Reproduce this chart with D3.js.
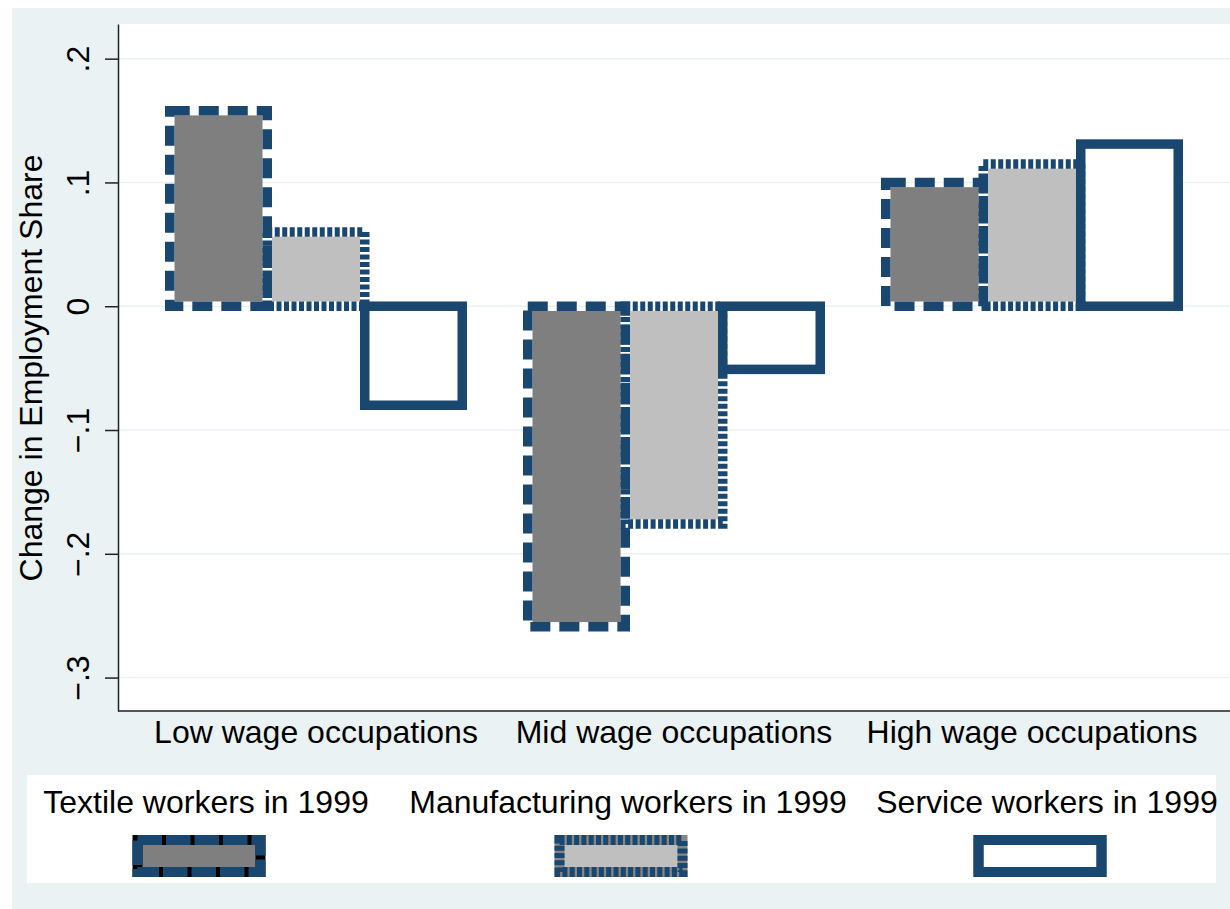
<!DOCTYPE html>
<html lang="en">
<head>
    <meta charset="utf-8">
    <title>Change in Employment Share by Occupation Wage Level</title>
    <script src="https://cdnjs.cloudflare.com/ajax/libs/d3/7.8.5/d3.min.js"></script>
    <style>
        body { margin: 0; background: #fff; }
        svg text { font-family: "Liberation Sans", Arial, Helvetica, sans-serif; fill: #000; }
    </style>
</head>
<body>
<div id="graphContent"></div>

<script>
    // data
    var groups = ["Low wage occupations", "Mid wage occupations", "High wage occupations"];
    var seriesNames = ["Textile workers in 1999", "Manufacturing workers in 1999", "Service workers in 1999"];
    var textileValues = [0.158, -0.259, 0.100];
    var manufacturingValues = [0.060, -0.176, 0.115];
    var serviceValues = [-0.080, -0.051, 0.131];
    var yTicks = [-0.3, -0.2, -0.1, 0, 0.1, 0.2];

    var navy = "#1a476f";
    var bgColor = "#eaf2f3";

    var seriesStyle = [
        {fill: "#7f7f7f", dash: "20,9", keyGap: "#000", keyDash: "24.5,4"},
        {fill: "#bfbfbf", dash: "5,2.5", keyGap: "#868686", keyDash: "5,2.3"},
        {fill: "#ffffff", dash: null, keyGap: navy, keyDash: null}
    ];

    var seriesValues = [textileValues, manufacturingValues, serviceValues];

    var rows = [];
    groups.forEach(function (g, gi) {
        seriesNames.forEach(function (s, si) {
            rows.push({group: g, series: s, si: si, value: seriesValues[si][gi]});
        });
    });

    var width = 1230, height = 909;
    var plot = {left: 118, top: 24, right: 1230, bottom: 711};
    var strokeW = 9.5;

    var svg = d3.select("#graphContent").append("svg")
        .attr("width", width)
        .attr("height", height);

    // outer graph region + plot region
    svg.append("rect").attr("x", 12).attr("y", 8).attr("width", width - 12).attr("height", height - 8)
        .attr("fill", bgColor);
    svg.append("rect").attr("x", plot.left).attr("y", plot.top)
        .attr("width", plot.right - plot.left).attr("height", plot.bottom - plot.top)
        .attr("fill", "#fff");

    var yScale = d3.scaleLinear().domain([-0.327, 0.228]).range([plot.bottom, plot.top]);

    var x0 = d3.scaleBand().domain(groups).range([137, 1211]);
    var x1 = d3.scaleBand().domain(seriesNames).range([0, x0.bandwidth()]).paddingOuter(0.336);

    // grid
    svg.append("g").selectAll("line").data(yTicks).join("line")
        .attr("x1", plot.left).attr("x2", plot.right)
        .attr("y1", d => yScale(d)).attr("y2", d => yScale(d))
        .attr("stroke", bgColor).attr("stroke-width", 1.5);

    // bars: fill inset, outline on top
    var bars = svg.append("g").selectAll("g").data(rows).join("g");

    function barBox(d) {
        var x = x0(d.group) + x1(d.series);
        var y = Math.min(yScale(d.value), yScale(0));
        var h = Math.abs(yScale(d.value) - yScale(0));
        return {x: x, y: y, w: x1.bandwidth(), h: h};
    }

    bars.append("rect")
        .attr("x", d => barBox(d).x + strokeW / 2)
        .attr("y", d => barBox(d).y + strokeW / 2)
        .attr("width", d => barBox(d).w - strokeW)
        .attr("height", d => Math.max(0, barBox(d).h - strokeW))
        .attr("fill", d => seriesStyle[d.si].fill);

    bars.append("rect")
        .attr("x", d => barBox(d).x)
        .attr("y", d => barBox(d).y)
        .attr("width", d => barBox(d).w)
        .attr("height", d => barBox(d).h)
        .attr("fill", "none")
        .attr("stroke", navy)
        .attr("stroke-width", strokeW)
        .attr("stroke-dasharray", d => seriesStyle[d.si].dash);

    // y axis
    var yAxis = d3.axisLeft(yScale).tickValues(yTicks).tickSize(13).tickSizeOuter(0)
        .tickFormat(function (d) {
            if (d === 0) return "0";
            return d3.format(".1f")(d).replace("0.", ".");
        });

    var yG = svg.append("g")
        .attr("transform", "translate(" + plot.left + ",0)")
        .call(yAxis);
    yG.select(".domain").attr("stroke", "#222").attr("stroke-width", 1.5);
    yG.selectAll(".tick line").attr("stroke", "#222").attr("stroke-width", 1.5);
    yG.selectAll(".tick text")
        .attr("x", 0).attr("dy", null)
        .attr("transform", "translate(-29,0) rotate(-90)")
        .attr("text-anchor", "middle")
        .attr("font-size", 32)
        .attr("fill", "#000");

    // x axis line
    svg.append("line")
        .attr("x1", plot.left).attr("x2", plot.right)
        .attr("y1", plot.bottom).attr("y2", plot.bottom)
        .attr("stroke", "#222").attr("stroke-width", 1.5);

    svg.append("g").selectAll("text").data(groups).join("text")
        .attr("x", d => x0(d) + x0.bandwidth() / 2)
        .attr("y", 743)
        .attr("text-anchor", "middle")
        .attr("font-size", 32)
        .text(d => d);

    svg.append("text")
        .attr("transform", "translate(42,368) rotate(-90)")
        .attr("text-anchor", "middle")
        .attr("font-size", 32)
        .text("Change in Employment Share");

    // legend
    svg.append("rect").attr("x", 27).attr("y", 775).attr("width", 1189).attr("height", 108)
        .attr("fill", "#fff");

    var legendCenters = [206, 628, 1047];
    var legend = svg.append("g").selectAll("g").data(seriesNames).join("g");

    legend.append("text")
        .attr("x", (d, i) => legendCenters[i])
        .attr("y", 813)
        .attr("text-anchor", "middle")
        .attr("font-size", 32)
        .text(d => d);

    legend.append("rect")
        .attr("x", (d, i) => legendCenters[i] - 7 - 61.5)
        .attr("y", 840).attr("width", 123).attr("height", 32)
        .attr("fill", (d, i) => seriesStyle[i].fill)
        .attr("stroke", (d, i) => seriesStyle[i].keyGap)
        .attr("stroke-width", 10);

    legend.append("rect")
        .attr("x", (d, i) => legendCenters[i] - 7 - 61.5)
        .attr("y", 840).attr("width", 123).attr("height", 32)
        .attr("fill", "none")
        .attr("stroke", navy)
        .attr("stroke-width", 10)
        .attr("stroke-dasharray", (d, i) => seriesStyle[i].keyDash);
</script>
</body>
</html>
